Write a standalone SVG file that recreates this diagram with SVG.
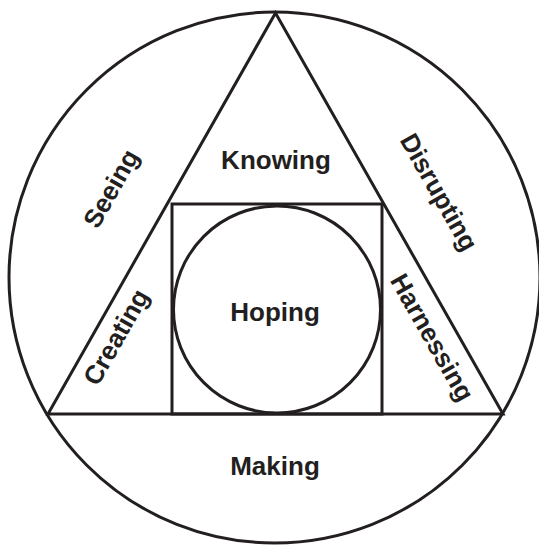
<svg xmlns="http://www.w3.org/2000/svg" width="539" height="548" viewBox="0 0 539 548">
<style>
.ln{fill:none;stroke:#231f20;stroke-width:3}
.t{font-family:"Liberation Sans",Arial,sans-serif;font-weight:bold;font-size:26px;fill:#231f20;text-anchor:middle}
</style>
<rect width="539" height="548" fill="#fff"/>
<g id="connectors">
</g>
<g id="outer-circle"><circle class="ln" cx="274.5" cy="277.5" r="265.5"/></g>
<g id="triangle"><polygon class="ln" points="275.5,13 48,414 503,414"/></g>
<g id="square"><rect class="ln" x="172" y="204" width="210" height="210"/></g>
<g id="inner-circle"><circle class="ln" cx="277" cy="309.5" r="103.5"/></g>
<g id="knowing"><text class="t" x="276" y="169">Knowing</text></g>
<g id="hoping"><text class="t" x="275" y="321">Hoping</text></g>
<g id="making"><text class="t" x="275" y="475">Making</text></g>
<g id="seeing"><text class="t" transform="translate(112.6,189.6) rotate(-60.4)" y="7">Seeing</text></g>
<g id="creating"><text class="t" transform="translate(117.7,338) rotate(-60.4)" y="7">Creating</text></g>
<g id="disrupting"><text class="t" transform="translate(437.4,193) rotate(60.4)" y="7">Disrupting</text></g>
<g id="harnessing"><text class="t" transform="translate(430.6,338.4) rotate(60.4)" y="7">Harnessing</text></g>
</svg>
